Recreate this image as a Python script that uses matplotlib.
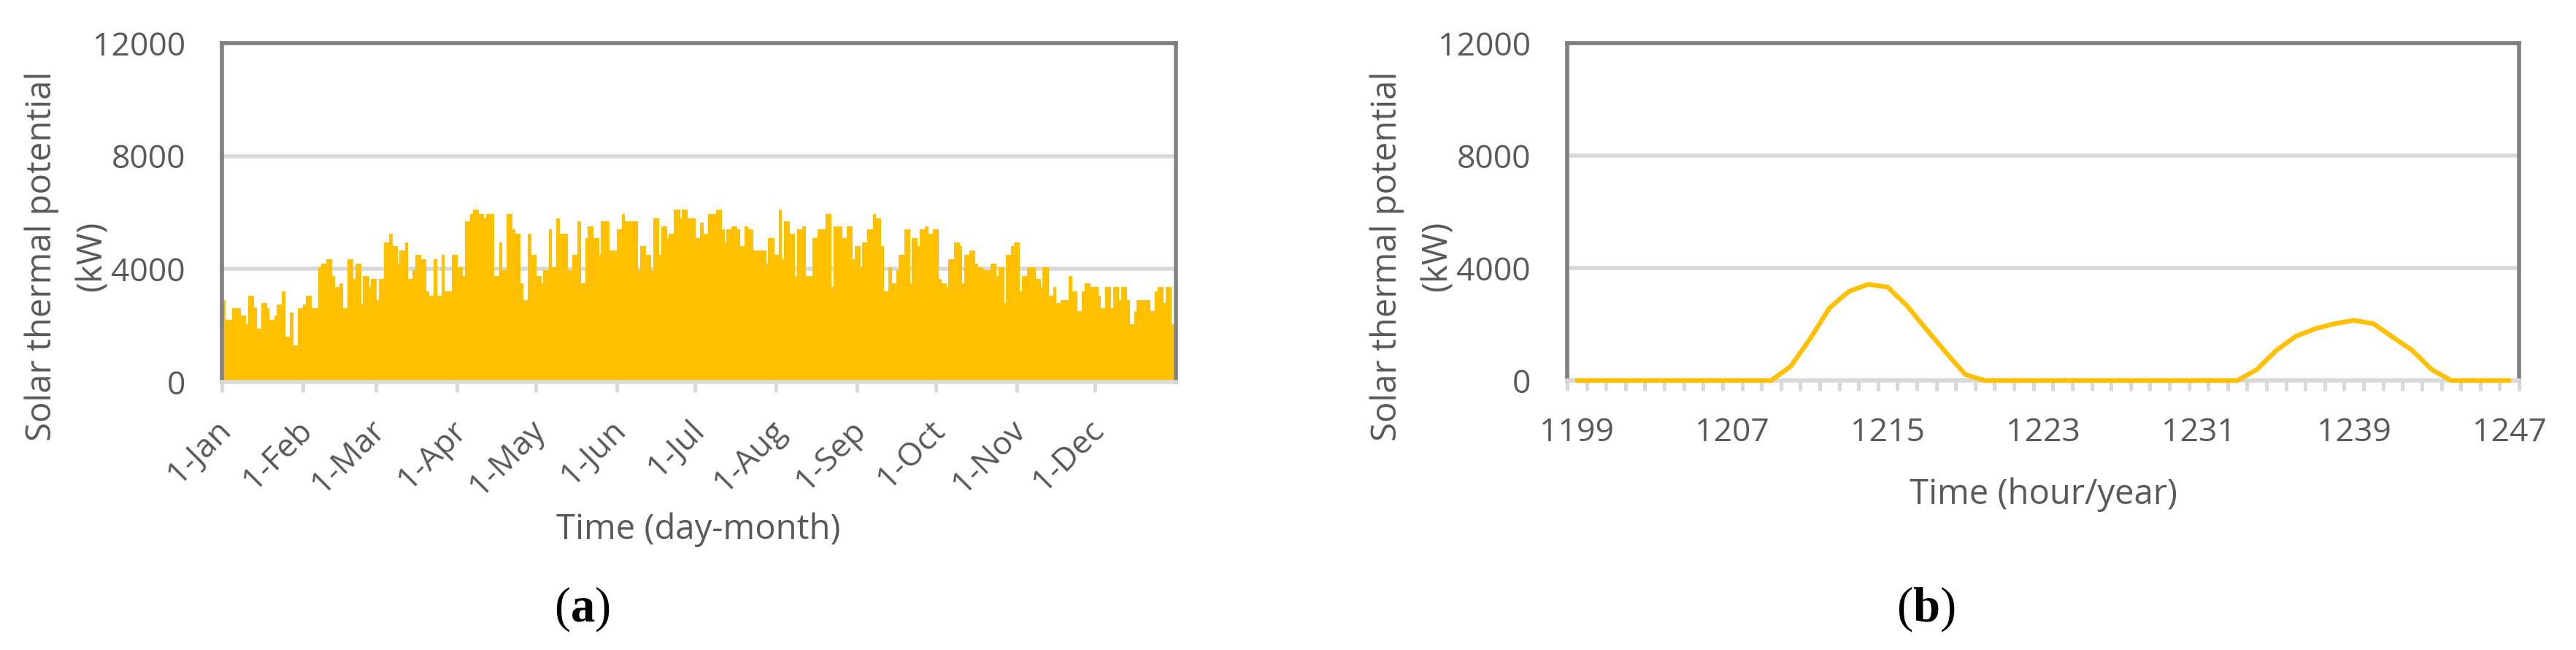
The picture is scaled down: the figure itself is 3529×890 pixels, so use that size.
import numpy as np
import matplotlib.pyplot as plt
from matplotlib.transforms import ScaledTranslation

plt.rcParams['font.family'] = ['Open Sans', 'DejaVu Sans']
plt.rcParams['mathtext.fontset'] = 'custom'
plt.rcParams['mathtext.rm'] = 'Liberation Serif'
plt.rcParams['mathtext.bf'] = 'Liberation Serif:bold'

W, H = 3530, 890

# (a) daily peak of the hourly solar thermal potential, kW
jan = [2900, 2200, 2200, 2200, 2600, 2600, 2600, 2350, 2350, 2050, 3050, 3050, 2650, 1900, 1900,
       2800, 2800, 2600, 2200, 2200, 2350, 2750, 2750, 3200, 1600, 1600, 2450, 1300, 1300, 2600, 2600]
feb = [2750, 3050, 3050, 2600, 2600, 2600, 4050, 4200, 4200, 4350, 4350, 3750, 3350, 3350,
       3500, 2600, 2600, 4350, 4350, 3650, 4200, 4200, 2750, 3750, 3750, 3350, 3650, 3650]
mar = [2900, 3650, 3650, 4950, 4950, 5250, 4800, 4800, 4200, 4650, 4650, 4950, 3650, 3650, 3950, 4500,
       4500, 4350, 4350, 3200, 3050, 3050, 4350, 3050, 3050, 4500, 3200, 3200, 3200, 4500, 4500]
apr = [4050, 4050, 3750, 5700, 5700, 5950, 6100, 6100, 5950, 5950, 5800, 5950, 5950, 5950, 3750,
       3750, 4950, 3950, 3950, 5950, 5950, 5400, 5250, 5250, 3500, 2900, 2900, 5250, 4500, 4500]
may = [3750, 3750, 3500, 3950, 3950, 5400, 4050, 4050, 5800, 5250, 5250, 5250, 3950, 3950, 4500, 4500,
       5700, 3500, 3500, 5100, 5500, 5500, 5100, 5100, 4500, 5700, 5700, 5700, 4650, 4650, 4650]
jun = [5400, 5400, 5950, 5700, 5700, 5700, 5700, 5700, 3950, 4800, 4800, 4500, 4500, 3950, 5800,
       5800, 4500, 5500, 5500, 5100, 5250, 5250, 6100, 6100, 5800, 6100, 6100, 5800, 5800, 5800]
jul = [5100, 5100, 5650, 5250, 5250, 5950, 5950, 5950, 6100, 6100, 5400, 4950, 5400, 5400, 5500, 5500,
       5400, 4800, 4800, 5500, 5400, 5400, 4650, 4650, 4650, 4650, 4650, 4200, 5100, 5100, 4500]
aug = [4500, 6100, 4350, 5700, 5700, 5250, 5250, 3750, 5400, 5400, 5500, 3750, 3750, 3750, 5100, 5100,
       5400, 5400, 5400, 5950, 5950, 3350, 5500, 5500, 5500, 5100, 5100, 5500, 5500, 4350, 4800]
sep = [4800, 4050, 4950, 4950, 5400, 5400, 5950, 5800, 5800, 4800, 3200, 3200, 4050, 3500, 3500,
       3950, 4500, 4500, 5400, 5400, 3500, 5100, 5100, 4800, 5400, 5400, 5500, 5250, 5250, 5400]
oct_ = [5400, 3650, 3500, 3500, 3350, 4350, 4350, 4950, 4950, 4800, 3500, 4500, 4500, 4650, 4650, 4200,
        4050, 4050, 3950, 3950, 3950, 4200, 4200, 3750, 4050, 4050, 2800, 4500, 4500, 4800, 4950]
nov = [4950, 3200, 3750, 3750, 4050, 4050, 4050, 3650, 3650, 3350, 4050, 4050, 3050, 3050, 3350,
       2800, 2800, 2900, 2900, 2900, 3750, 3200, 3200, 2500, 2500, 3200, 3500, 3500, 3350, 3350]
dec = [3350, 3050, 2600, 2600, 3350, 3350, 2600, 3350, 3350, 2900, 3350, 3350, 2900, 2050, 2050, 2500,
       2900, 2900, 2900, 2900, 2900, 2500, 2500, 3200, 3350, 3350, 2800, 3350, 3350, 2050, 2050]
month_labels = ['1-Jan', '1-Feb', '1-Mar', '1-Apr', '1-May', '1-Jun',
                '1-Jul', '1-Aug', '1-Sep', '1-Oct', '1-Nov', '1-Dec']

# (b) hourly values, hours 1199..1247
hours = list(range(1199, 1248))
hour_kw = [0] * 11 + [500, 1480, 2580, 3170, 3420, 3320, 2650, 1810, 990, 210] + [0] * 14 + \
          [390, 1070, 1570, 1840, 2020, 2140, 2020, 1540, 1070, 390] + [0] * 4
hour_label_step = 8

YELLOW = '#FFC000'
TXT = '#595959'
GRID = '#D9D9D9'
BORDER = '#808080'

fig = plt.figure(figsize=(W / 100, H / 100), dpi=100)


def px_axes(x0, x1, y_top, y_bot):
    return fig.add_axes([x0 / W, 1 - y_bot / H, (x1 - x0) / W, (y_bot - y_top) / H])


def style(ax):
    ax.set_ylim(0, 12000)
    ax.set_yticks([0, 4000, 8000, 12000])
    ax.grid(axis='y', color=GRID, lw=4)
    ax.set_axisbelow(True)
    for s in ('top', 'left', 'right'):
        ax.spines[s].set_color(BORDER)
        ax.spines[s].set_linewidth(4)
    ax.spines['bottom'].set_color(GRID)
    ax.spines['bottom'].set_linewidth(4)
    ax.tick_params(axis='y', length=0, pad=36, labelsize=32, labelcolor=TXT)


def ylabel(x_axis):
    fig.text((x_axis - 247) / W, 1 - 351 / H, 'Solar thermal potential', rotation=90,
             ha='center', va='center', fontsize=34, color=TXT)
    fig.text((x_axis - 178) / W, 1 - 351 / H, '(kW)', rotation=90,
             ha='center', va='center', fontsize=34, color=TXT)


# ---- (a)
ax_a = px_axes(304, 1611, 59, 523)
style(ax_a)
daily = np.concatenate([jan, feb, mar, apr, may, jun, jul, aug, sep, oct_, nov, dec])
days = np.arange(len(daily))
ax_a.bar(days, daily, width=1.0, align='edge', color=YELLOW, edgecolor=YELLOW, lw=0.8, zorder=2)
month_len = [len(m) for m in (jan, feb, mar, apr, may, jun, jul, aug, sep, oct_, nov, dec)]
month_start = np.cumsum([0] + month_len[:-1])
ax_a.set_xlim(0, len(daily))
ax_a.set_xticks(month_start)
ax_a.set_xticklabels(month_labels, rotation=45, ha='right', va='center', rotation_mode='anchor')
ax_a.tick_params(axis='x', length=10, width=3.6, color=GRID, pad=33, labelsize=32, labelcolor=TXT)
for lbl in ax_a.get_xticklabels():
    lbl.set_transform(lbl.get_transform() + ScaledTranslation(6 / 100, 0, fig.dpi_scale_trans))
ylabel(304)
fig.text(957 / W, 1 - 738 / H, 'Time (day-month)', ha='center', va='baseline', fontsize=34, color=TXT)
fig.text(797 / W, 1 - 834 / H, r'($\mathbf{a}$)', ha='center', va='center', fontsize=48,
         family='Liberation Serif', color='black')

# ---- (b)
ax_b = px_axes(2147, 3451, 59, 521)
style(ax_b)
ax_b.plot(hours, hour_kw, color=YELLOW, lw=4.6, solid_joinstyle='round', solid_capstyle='round',
          zorder=3, clip_on=False)
ax_b.set_xlim(hours[0] - 0.5, hours[-1] + 0.5)
ax_b.set_xticks(hours[::hour_label_step])
ax_b.set_xticks(np.append(np.array(hours) - 0.5, hours[-1] + 0.5), minor=True)
ax_b.tick_params(axis='x', which='major', length=0, pad=36, labelsize=32, labelcolor=TXT)
ax_b.tick_params(axis='x', which='minor', length=10, width=3.6, color=GRID)
ylabel(2147)
fig.text(2799 / W, 1 - 690 / H, 'Time (hour/year)', ha='center', va='baseline', fontsize=34, color=TXT)
fig.text(2638 / W, 1 - 834 / H, r'($\mathbf{b}$)', ha='center', va='center', fontsize=48,
         family='Liberation Serif', color='black')

fig.savefig('out.png', dpi=100)
